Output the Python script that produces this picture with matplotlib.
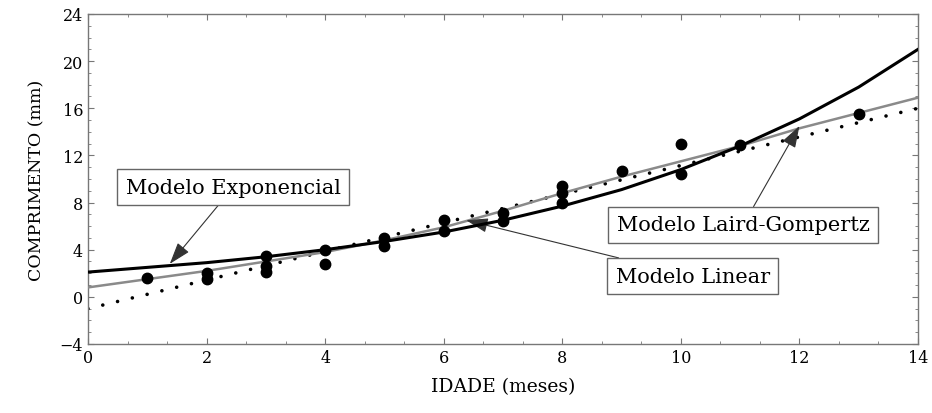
import matplotlib
matplotlib.use('Agg')
import matplotlib.pyplot as plt
from matplotlib.ticker import MultipleLocator

# observed data (age in months, length in mm)
idade = [1, 2, 2, 3, 3, 3, 4, 4, 5, 5, 6, 6, 7, 7, 8, 8, 8, 9, 10, 10, 11, 13]
comprimento = [1.6, 1.5, 2.0, 3.5, 2.6, 2.1, 4.0, 2.8, 4.3, 5.0, 6.5, 5.6,
               7.1, 6.4, 9.4, 8.8, 8.0, 10.7, 13.0, 10.4, 12.9, 15.5]

# fitted model curves
x_modelo = [0, 1, 2, 3, 4, 5, 6, 7, 8, 9, 10, 11, 12, 13, 14]
y_exponencial = [2.1, 2.5, 2.9, 3.4, 4.0, 4.7, 5.5, 6.5, 7.7, 9.1, 10.8, 12.8, 15.1, 17.8, 21.0]
y_gompertz = [0.8, 1.5, 2.2, 3.0, 3.8, 4.8, 5.9, 7.3, 8.8, 10.2, 11.5, 12.8, 14.3, 15.6, 16.9]
x_linear = [0, 14]
y_linear = [-1.0, 16.0]

plt.rcParams['font.family'] = ['DejaVu Serif']

fig = plt.figure(figsize=(9.32, 4.14), dpi=100)
ax = fig.add_axes([0.0944, 0.1667, 0.8906, 0.7971])

ax.plot(x_linear, y_linear, color='black', lw=2.6, linestyle=(0, (0.01, 4.2)),
        dash_capstyle='round', zorder=2)
ax.plot(x_modelo, y_gompertz, color='#8a8a8a', lw=1.8, zorder=3)
ax.plot(x_modelo, y_exponencial, color='black', lw=2.2, zorder=4)
ax.plot(idade, comprimento, 'o', color='black', ms=7.5, zorder=5)

ax.set_xlim(0, 14)
ax.set_ylim(-4, 24)
ax.xaxis.set_major_locator(MultipleLocator(2))
ax.xaxis.set_minor_locator(MultipleLocator(2 / 3))
ax.yaxis.set_major_locator(MultipleLocator(4))
ax.yaxis.set_minor_locator(MultipleLocator(1))
ax.tick_params(which='both', direction='in', top=True, right=True, color='#777777')
ax.tick_params(which='major', length=4, labelsize=11.5)
ax.tick_params(which='minor', length=2)
for s in ax.spines.values():
    s.set_color('#777777')
    s.set_linewidth(1.0)

ax.set_xlabel('IDADE (meses)', fontsize=13.5, labelpad=8)
ax.set_ylabel('COMPRIMENTO (mm)', fontsize=12.5, labelpad=10)

box = dict(boxstyle='square,pad=0.4', fc='white', ec='#666666', lw=1)
arrow = dict(arrowstyle='-|>,head_length=0.9,head_width=0.3', color='#333333', lw=0.8,
             shrinkA=0, shrinkB=0)

ax.annotate('Modelo Exponencial', xy=(1.38, 2.8), xytext=(2.45, 9.3),
            ha='center', va='center', fontsize=15, bbox=box, arrowprops=arrow)
ax.annotate('Modelo Laird-Gompertz', xy=(12.0, 14.5), xytext=(11.05, 6.1),
            ha='center', va='center', fontsize=15, bbox=box, arrowprops=arrow)
ax.annotate('Modelo Linear', xy=(6.38, 6.5), xytext=(10.2, 1.75),
            ha='center', va='center', fontsize=15, bbox=box, arrowprops=arrow)

fig.savefig('out.png', dpi=100)
